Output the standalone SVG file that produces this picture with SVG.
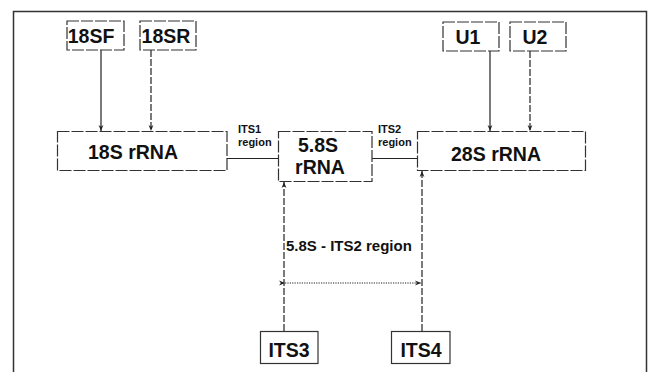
<svg xmlns="http://www.w3.org/2000/svg" width="648" height="372" viewBox="0 0 648 372">
<style>
.box{fill:#fff;stroke:#333;stroke-width:1.2}
.dbox{fill:#fff;stroke:#333;stroke-width:1.2;stroke-dasharray:12 2}
.lbl{font-family:"Liberation Sans",Arial,sans-serif;font-weight:bold;fill:#111;text-anchor:middle}
.big{font-size:19.5px}
.sm{font-size:11px;text-anchor:start}
.solid{stroke:#222;stroke-width:1.2;fill:none}
.dash{stroke:#222;stroke-width:1.2;fill:none;stroke-dasharray:7 2}
.dot{stroke:#222;stroke-width:1;fill:none;stroke-dasharray:1.2 1.2}
</style>
<defs>
<marker id="ah" viewBox="0 0 10 10" refX="10" refY="5" markerWidth="6" markerHeight="6" orient="auto" markerUnits="userSpaceOnUse">
<path d="M0,1 L10,5 L0,9 L3,5 Z" fill="#222"/>
</marker>
</defs>
<rect x="0" y="0" width="648" height="372" fill="#fff"/>
<path d="M13.5,372 V11.5 H646.5 V372" fill="none" stroke="#333" stroke-width="1.5"/>

<g id="connectors">
<line class="solid" x1="101" y1="50" x2="101" y2="131" marker-end="url(#ah)"/>
<line class="dash" x1="151" y1="50" x2="151" y2="131" marker-end="url(#ah)"/>
<line class="solid" x1="490" y1="51" x2="490" y2="131" marker-end="url(#ah)"/>
<line class="dash" x1="530" y1="51" x2="530" y2="131" marker-end="url(#ah)"/>
<line class="solid" x1="227" y1="158.5" x2="278" y2="158.5" stroke-width="1.5"/>
<line class="solid" x1="372" y1="158.5" x2="417" y2="158.5" stroke-width="1.5"/>
<line class="dash" x1="284" y1="331" x2="284" y2="182" marker-end="url(#ah)"/>
<line class="dash" x1="422" y1="331" x2="422" y2="171" marker-end="url(#ah)"/>
<line class="dot" x1="285" y1="283" x2="421" y2="283" marker-start="url(#ah)" marker-end="url(#ah)"/>
<text class="lbl sm" x="238" y="133">ITS1</text>
<text class="lbl sm" x="238" y="146">region</text>
<text class="lbl sm" x="378" y="133">ITS2</text>
<text class="lbl sm" x="378" y="146">region</text>
<text class="lbl" x="286" y="251" style="font-size:15px;text-anchor:start">5.8S - ITS2 region</text>
</g>

<g id="n18SF"><rect class="dbox" x="67" y="21" width="57" height="29"/><text class="lbl big" x="91" y="43">18SF</text></g>
<g id="n18SR"><rect class="dbox" x="140" y="21" width="56" height="29"/><text class="lbl big" x="166" y="43">18SR</text></g>
<g id="nU1"><rect class="dbox" x="443" y="22" width="56" height="29"/><text class="lbl big" x="468" y="44">U1</text></g>
<g id="nU2"><rect class="dbox" x="510" y="22" width="56" height="29"/><text class="lbl big" x="535" y="44">U2</text></g>
<g id="n18S"><rect class="dbox" x="57.5" y="131.5" width="169.5" height="39"/><text class="lbl big" x="133" y="159">18S rRNA</text></g>
<g id="n58S"><rect class="dbox" x="278.5" y="131.5" width="93.5" height="50"/><text class="lbl big" x="318" y="152">5.8S</text><text class="lbl big" x="320" y="174">rRNA</text></g>
<g id="n28S"><rect class="dbox" x="417.5" y="131.5" width="168" height="39"/><text class="lbl big" x="496" y="161">28S rRNA</text></g>
<g id="nITS3"><rect class="box" x="260.5" y="331.5" width="57.5" height="32"/><text class="lbl big" x="289" y="357">ITS3</text></g>
<g id="nITS4"><rect class="box" x="391.5" y="331.5" width="58.5" height="32"/><text class="lbl big" x="421" y="357">ITS4</text></g>
</svg>
